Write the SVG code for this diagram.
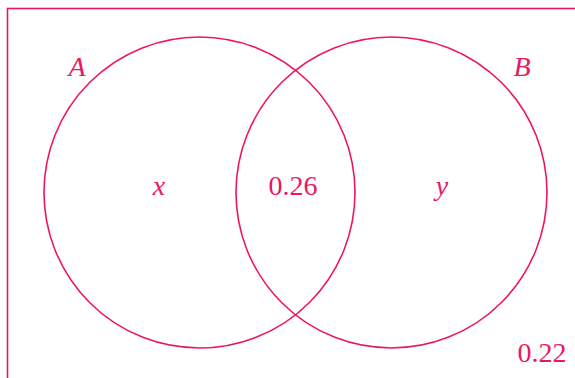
<svg xmlns="http://www.w3.org/2000/svg" width="575" height="378" viewBox="0 0 575 378">
<style>
.s{fill:none;stroke:#EC1763;stroke-width:1.6}
.t{font-family:"Liberation Serif","Times New Roman",serif;font-size:28px;fill:#EC1763;text-anchor:middle}
.i{font-style:italic}
</style>
<rect width="575" height="378" fill="#fff"/>
<g id="universe"><rect class="s" x="7.5" y="8.5" width="600" height="400"/><text class="t" x="542" y="362">0.22</text></g>
<g id="setA"><circle class="s" cx="199.5" cy="192.5" r="155.5"/><text class="t i" x="77" y="76">A</text><text class="t i" x="159" y="195">x</text></g>
<g id="setB"><circle class="s" cx="391.5" cy="192.5" r="155.5"/><text class="t i" x="522" y="76">B</text><text class="t i" x="442" y="195">y</text></g>
<g id="intersection"><text class="t" x="293" y="195">0.26</text></g>
</svg>
